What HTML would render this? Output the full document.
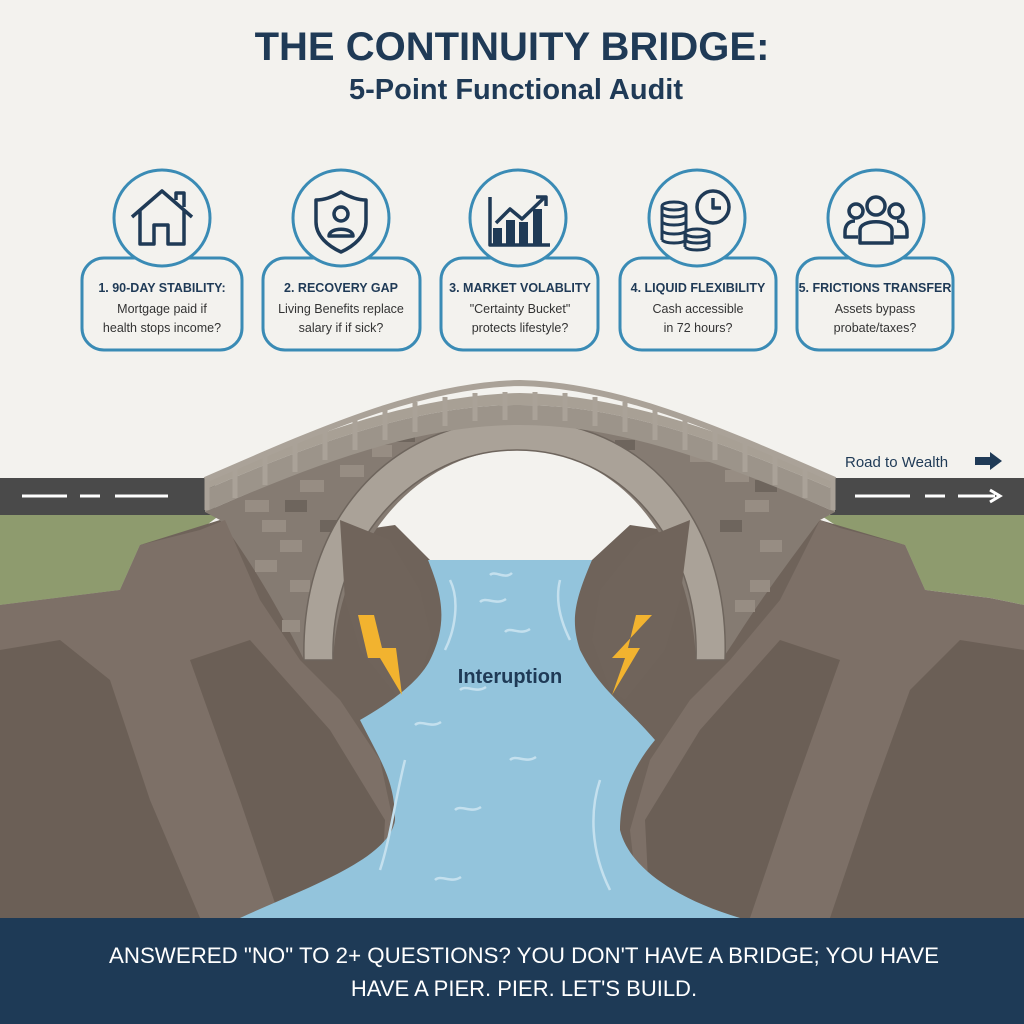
<!DOCTYPE html>
<html><head><meta charset="utf-8"><style>
html,body{margin:0;padding:0;background:#f3f2ee;}
svg{display:block}
text{font-family:"Liberation Sans",sans-serif}
</style></head><body>
<svg width="1024" height="1024" viewBox="0 0 1024 1024" xmlns="http://www.w3.org/2000/svg">
<rect width="1024" height="1024" fill="#f3f2ee"/>
<text x="512" y="60" text-anchor="middle" font-size="40" font-weight="bold" fill="#1f3a56">THE CONTINUITY BRIDGE:</text>
<text x="516" y="99" text-anchor="middle" font-size="29" font-weight="bold" fill="#1f3a56">5-Point Functional Audit</text>

<g fill="#f3f2ee" stroke="#3a8bb5" stroke-width="3">
<rect x="82" y="258" width="160" height="92" rx="22"/>
<rect x="263" y="258" width="157" height="92" rx="22"/>
<rect x="441" y="258" width="157" height="92" rx="22"/>
<rect x="620" y="258" width="156" height="92" rx="22"/>
<rect x="797" y="258" width="156" height="92" rx="22"/>
<circle cx="162" cy="218" r="48"/>
<circle cx="341" cy="218" r="48"/>
<circle cx="518" cy="218" r="48"/>
<circle cx="697" cy="218" r="48"/>
<circle cx="876" cy="218" r="48"/>
</g>
<g fill="none" stroke="#1f3a56" stroke-width="3.5" stroke-linejoin="round">
<path d="M132 217 L162 191 L192 217 M140 210 V244 H154 V225 H168 V244 H184 V210"/>
<path d="M176 200 V193 H184 V207"/>
<path d="M341 192 C331 198 323 200 316 200 V222 C316 236 328 246 341 252 C354 246 366 236 366 222 V200 C359 200 351 198 341 192Z"/>
<circle cx="341" cy="214" r="7"/>
<path d="M329 236 C329 227 353 227 353 236 Z"/>
<path d="M490 197 V245 H550"/>
<path d="M496 223 L510 209 L522 219 L545 197 M536 197 H546 V206"/>
<circle cx="713" cy="207" r="16"/>
<path d="M713 198 V208 H721"/>
<g stroke-width="3"><ellipse cx="674" cy="206" rx="12" ry="4"/><path d="M662 206 V240 M686 206 V240 M662 214 C666 218 682 218 686 214 M662 222 C666 226 682 226 686 222 M662 231 C666 235 682 235 686 231 M662 240 C666 244 682 244 686 240"/>
<ellipse cx="697" cy="233" rx="12" ry="4" fill="#f3f2ee"/><path d="M685 233 V247 M709 233 V247 M685 240 C689 244 705 244 709 240 M685 247 C689 251 705 251 709 247"/></g>
<circle cx="876" cy="206" r="9"/><circle cx="856" cy="211" r="7"/><circle cx="896" cy="211" r="7"/>
<path d="M860 243 V230 C860 219 892 219 892 230 V243 Z"/>
<path d="M855 221 C848 221 845 226 845 232 V237 H858 M897 221 C904 221 907 226 907 232 V237 H894"/>
</g>
<rect x="493" y="228" width="9" height="17" fill="#1f3a56"/><rect x="506" y="220" width="9" height="25" fill="#1f3a56"/><rect x="519" y="222" width="9" height="23" fill="#1f3a56"/><rect x="533" y="209" width="9" height="36" fill="#1f3a56"/>

<g font-size="12.5" fill="#1f3a56" text-anchor="middle">
<text x="162" y="292" font-weight="bold">1. 90-DAY STABILITY:</text>
<text x="162" y="313" fill="#333">Mortgage paid if</text><text x="162" y="332" fill="#333">health stops income?</text>
<text x="341" y="292" font-weight="bold">2. RECOVERY GAP</text>
<text x="341" y="313" fill="#333">Living Benefits replace</text><text x="341" y="332" fill="#333">salary if if sick?</text>
<text x="520" y="292" font-weight="bold">3. MARKET VOLABLITY</text>
<text x="520" y="313" fill="#333">"Certainty Bucket"</text><text x="520" y="332" fill="#333">protects lifestyle?</text>
<text x="698" y="292" font-weight="bold">4. LIQUID FLEXIBILITY</text>
<text x="698" y="313" fill="#333">Cash accessible</text><text x="698" y="332" fill="#333">in 72 hours?</text>
<text x="875" y="292" font-weight="bold">5. FRICTIONS TRANSFER</text>
<text x="875" y="313" fill="#333">Assets bypass</text><text x="875" y="332" fill="#333">probate/taxes?</text>
</g>

<rect x="0" y="478" width="215" height="38" fill="#4a4a4a"/>
<rect x="830" y="478" width="194" height="38" fill="#4a4a4a"/>
<g stroke="#fff" stroke-width="3"><path d="M22 496 H67 M80 496 H100 M115 496 H168"/><path d="M855 496 H910 M925 496 H945 M958 496 H995"/></g>
<path d="M990 490 L1000 496 L990 502" fill="none" stroke="#fff" stroke-width="3"/>
<text x="845" y="467" font-size="15" fill="#1f3a56">Road to Wealth</text>
<path d="M975 457 H990 V452 L1002 461 L990 470 V465 H975Z" fill="#1f3a56"/>
<path d="M0 515 H220 L200 530 L140 545 L120 590 L40 600 L0 605Z" fill="#8e9b6e"/>
<path d="M820 515 H1024 V605 L990 598 L925 590 L905 545 L840 528Z" fill="#8e9b6e"/>

<!-- base rock -->
<path d="M0 605 L120 590 L140 545 L220 520 L304 600 L340 600 L360 530 L395 525 L430 560 L592 560 L630 525 L665 530 L690 600 L725 600 L820 520 L905 545 L925 590 L1024 605 V918 H0Z" fill="#6f635a"/>

<path d="M205 512 C300 470 420 420 520 415 C620 420 740 470 835 512 L820 520 C790 560 760 600 735 640 L725 655 L696 660 C690 540 620 450 517 450 C420 450 340 540 333 660 L304 660 C280 610 250 560 220 520Z" fill="#857b72"/>
<g fill="#978d83">
<rect x="245" y="500" width="24" height="12"/><rect x="262" y="520" width="24" height="12"/><rect x="280" y="540" width="22" height="12"/><rect x="255" y="560" width="22" height="12"/><rect x="290" y="580" width="20" height="12"/><rect x="282" y="620" width="18" height="12"/><rect x="300" y="480" width="24" height="12"/><rect x="340" y="465" width="24" height="12"/><rect x="372" y="445" width="20" height="12"/>
<rect x="745" y="500" width="24" height="12"/><rect x="760" y="540" width="22" height="12"/><rect x="725" y="470" width="24" height="12"/><rect x="690" y="450" width="22" height="12"/><rect x="735" y="600" width="20" height="12"/><rect x="750" y="580" width="20" height="12"/>
</g>
<g fill="#6e655d"><rect x="285" y="500" width="22" height="12"/><rect x="320" y="520" width="22" height="12"/><rect x="395" y="430" width="20" height="12"/><rect x="445" y="418" width="20" height="10"/><rect x="565" y="418" width="20" height="10"/><rect x="615" y="440" width="20" height="10"/><rect x="720" y="520" width="22" height="12"/><rect x="755" y="480" width="22" height="12"/></g>
<path d="M304 660 C300 520 390 420 517 420 C645 420 730 520 725 660 L696 660 C700 540 620 450 517 450 C415 450 330 540 333 660Z" fill="#aaa298" stroke="#6e655d" stroke-width="1.5"/>
<path d="M205 480 C320 430 420 395 520 393 C620 395 720 430 835 480 L835 490 C720 440 620 405 520 405 C420 405 320 440 205 490Z" fill="#a8a095"/>
<path d="M205 490 C320 440 420 405 520 405 C620 405 720 440 835 490 L835 512 C720 462 620 425 520 425 C420 425 320 462 205 512Z" fill="#9c948a"/>
<g stroke="#aaa298" stroke-width="5">
<path d="M207 478 V510 M235 466 V498 M265 453 V485 M295 441 V472 M325 429 V460 M355 419 V450 M385 410 V440 M415 402 V432 M445 397 V426 M475 393 V421 M505 392 V420 M535 392 V420 M565 393 V421 M595 397 V426 M625 402 V432 M655 410 V440 M685 419 V450 M715 429 V460 M745 441 V472 M775 453 V485 M805 466 V498 M833 478 V510"/>
</g>
<path d="M205 480 C320 430 420 385 520 383 C620 385 720 430 835 480" fill="none" stroke="#aaa298" stroke-width="6"/>

<path d="M0 605 L40 600 L120 590 L140 545 L200 530 L225 520 L260 600 L300 660 L340 700 L380 760 L395 830 L390 918 H0Z" fill="#7d7067"/>
<path d="M0 650 L60 640 L110 680 L150 800 L200 918 H0Z" fill="#6b5f56"/>
<path d="M190 660 L250 640 L330 730 L385 820 L380 918 H280 L240 800Z" fill="#6b5f56"/>
<path d="M340 520 L390 540 L420 590 L432 640 L415 690 L400 700 L360 650 L345 600Z" fill="#70645b"/>
<path d="M1024 605 L990 598 L925 590 L905 545 L840 528 L820 520 L780 600 L730 660 L690 700 L650 760 L630 830 L640 918 H1024Z" fill="#7d7067"/>
<path d="M1024 650 L960 640 L910 690 L870 800 L830 918 H1024Z" fill="#6b5f56"/>
<path d="M840 660 L780 640 L700 730 L645 820 L650 918 H750 L790 800Z" fill="#6b5f56"/>
<path d="M690 520 L640 540 L600 590 L592 640 L610 690 L625 700 L665 650 L680 600Z" fill="#70645b"/>
<path d="M428 560 H592 C575 600 570 620 580 650 C600 690 620 700 655 740 C630 770 620 800 620 830 C630 870 680 900 740 918 H240 C300 890 390 860 395 820 C395 780 380 760 360 720 C395 700 420 680 430 660 C450 620 440 590 428 560Z" fill="#93c4dc"/>
<g fill="none" stroke="#c4e0ee" stroke-width="2.5">
<path d="M490 575 C495 570 505 580 512 573"/><path d="M480 602 C486 596 496 606 506 599"/><path d="M505 632 C510 626 520 636 530 629"/><path d="M460 690 C466 684 476 694 486 687"/><path d="M415 725 C421 719 431 729 441 722"/><path d="M510 760 C516 754 526 764 536 757"/><path d="M455 810 C461 804 471 814 481 807"/><path d="M435 880 C441 874 451 884 461 877"/>
<path d="M450 580 C460 600 455 630 445 650"/><path d="M560 580 C555 600 560 620 570 640"/><path d="M405 760 C395 800 390 840 380 870"/><path d="M600 780 C590 810 590 850 610 890"/>
</g>
<text x="510" y="683" text-anchor="middle" font-size="20" font-weight="bold" fill="#1f3a56">Interuption</text>
<path d="M358 615 L374 615 L382 648 L396 648 L402 695 L380 658 L368 658Z" fill="#f2b32f"/>
<path d="M652 615 L636 615 L628 648 L640 648 L612 695 L625 658 L612 658Z" fill="#f2b32f"/>

<rect x="0" y="918" width="1024" height="106" fill="#1e3a56"/>
<text x="524" y="963" text-anchor="middle" font-size="22" fill="#fff" textLength="830" lengthAdjust="spacingAndGlyphs">ANSWERED "NO" TO 2+ QUESTIONS? YOU DON'T HAVE A BRIDGE; YOU HAVE</text>
<text x="524" y="996" text-anchor="middle" font-size="22" fill="#fff">HAVE A PIER. PIER. LET'S BUILD.</text>
</svg>
</body></html>
